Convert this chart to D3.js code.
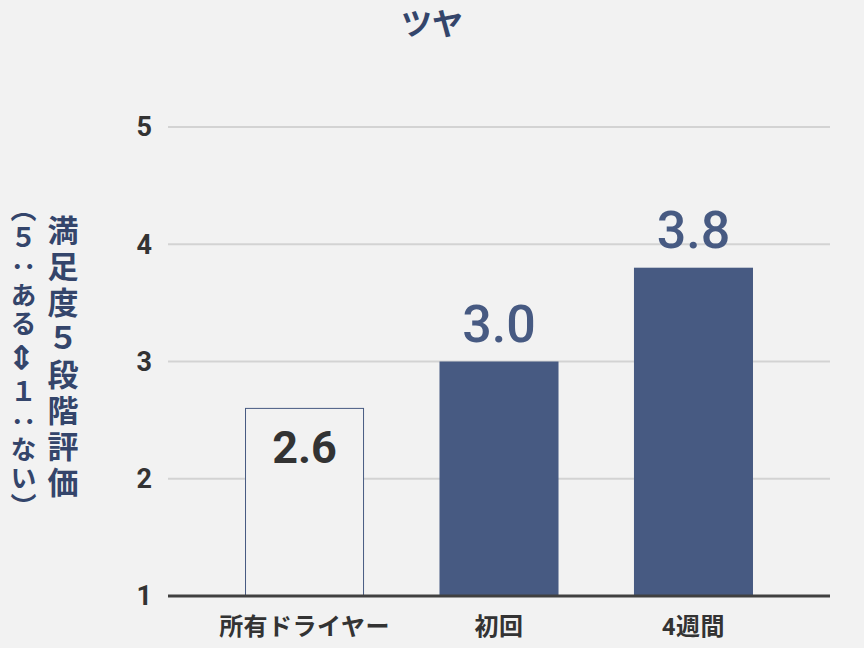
<!DOCTYPE html>
<html><head><meta charset="utf-8">
<script src="https://cdn.jsdelivr.net/npm/d3@7"></script>
<style>
html,body{margin:0;padding:0;background:#f2f2f2;}
svg{display:block;}
text{font-family:Roboto,"Noto Sans CJK JP",sans-serif;}
</style></head>
<body>
<svg id="chart" width="864" height="648"></svg>
<script>
const title = "ツヤ";
const categories = ["所有ドライヤー", "初回", "4週間"];
const values = [2.6, 3.0, 3.8];
const yTicks = [1, 2, 3, 4, 5];
const yLabelMain = "満足度５段階評価";
const yLabelSub = "（５：ある⇕１：ない）";

const svg = d3.select("#chart");
const W = 864, H = 648;
const m = {left:168, right:34, top:127, bottom:52};
const x = d3.scaleBand().domain(categories).range([m.left, W - m.right])
  .paddingInner(0.388).paddingOuter(0.396);
const y = d3.scaleLinear().domain([1, 5]).range([H - m.bottom, m.top]);

const barColor = "#475a82";

svg.append("rect").attr("width", W).attr("height", H).attr("fill", "#f2f2f2");

// gridlines
svg.append("g").selectAll("line").data(yTicks.filter(d => d > 1)).join("line")
  .attr("x1", m.left).attr("x2", W - m.right)
  .attr("y1", d => y(d)).attr("y2", d => y(d))
  .attr("stroke", "#d3d3d3").attr("stroke-width", 2);

// tick labels
svg.append("g").selectAll("text").data(yTicks).join("text")
  .attr("x", 152).attr("y", d => y(d)).attr("dy", "0.35em")
  .attr("text-anchor", "end").attr("font-size", 27).attr("font-weight", 700)
  .attr("fill", "#333").text(d => d);

// bars
svg.append("g").selectAll("rect").data(values).join("rect")
  .attr("x", (d, i) => x(categories[i]) + (i === 0 ? 0.5 : 0))
  .attr("y", d => y(d))
  .attr("width", (d, i) => x.bandwidth() - (i === 0 ? 1 : 0))
  .attr("height", d => y(1) - y(d))
  .attr("fill", (d, i) => i === 0 ? "#f2f2f2" : barColor)
  .attr("stroke", (d, i) => i === 0 ? barColor : "none")
  .attr("stroke-width", 1);

// value labels
svg.append("g").selectAll("text").data(values).join("text")
  .attr("x", (d, i) => x(categories[i]) + x.bandwidth() / 2)
  .attr("y", (d, i) => i === 0 ? y(d) + 55 : y(d) - 20)
  .attr("text-anchor", "middle")
  .attr("font-size", (d, i) => i === 0 ? 45 : 52)
  .attr("font-weight", (d, i) => i === 0 ? 700 : 500)
  .attr("fill", (d, i) => i === 0 ? "#333" : barColor)
  .text(d => d.toFixed(1));

// baseline
svg.append("line").attr("x1", m.left).attr("x2", W - m.right)
  .attr("y1", y(1)).attr("y2", y(1))
  .attr("stroke", "#404040").attr("stroke-width", 3);

// category labels
svg.append("g").selectAll("text").data(categories).join("text")
  .attr("x", d => x(d) + x.bandwidth() / 2).attr("y", 627).attr("dy", "0.35em")
  .attr("text-anchor", "middle").attr("font-size", 24).attr("font-weight", 700)
  .attr("letter-spacing", 0.5)
  .attr("fill", "#333").text(d => d);

// title
svg.append("text").attr("x", 432).attr("y", 24).attr("dy", "0.35em")
  .attr("text-anchor", "middle").attr("font-size", 31).attr("font-weight", 700)
  .attr("fill", "#34456b").text(title);

// y axis labels (vertical)
const cy = (y(1) + y(5)) / 2 - 3;
svg.append("text").attr("x", 60).attr("y", cy)
  .style("writing-mode", "vertical-rl")
  .attr("text-anchor", "middle").attr("font-size", 31).attr("font-weight", 700)
  .attr("letter-spacing", 5)
  .attr("font-family", "'Noto Sans CJK JP', sans-serif")
  .attr("fill", "#34456b").text(yLabelMain);
const sub = svg.append("text").attr("x", 21).attr("y", cy)
  .style("writing-mode", "vertical-rl")
  .attr("text-anchor", "middle").attr("font-size", 26).attr("font-weight", 700)
  .attr("letter-spacing", 2.5)
  .attr("font-family", "'Noto Sans CJK JP', sans-serif")
  .attr("fill", "#34456b");
sub.selectAll("tspan").data(Array.from(yLabelSub)).join("tspan")
  .attr("font-size", c => c === "⇕" ? 32 : null)
  .style("text-orientation", c => c === "⇕" ? "upright" : null)
  .text(c => c);
</script>
</body></html>
